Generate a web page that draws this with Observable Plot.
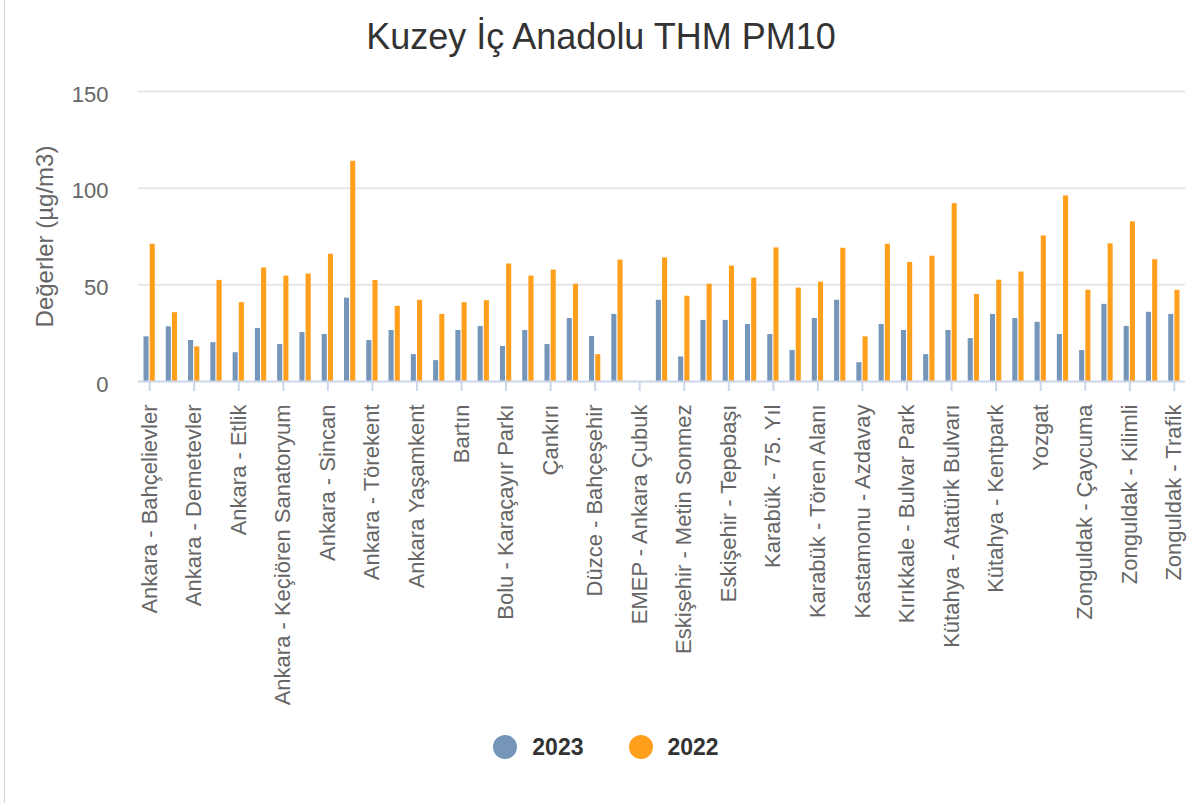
<!DOCTYPE html>
<html>
<head>
<meta charset="utf-8">
<script src="https://cdn.jsdelivr.net/npm/d3@7"></script>
<script src="https://cdn.jsdelivr.net/npm/@observablehq/plot@0.6"></script>
<style>
  html, body { margin: 0; padding: 0; background: #fff; }
  body { font-family: "Liberation Sans", Arial, sans-serif; width: 1202px; height: 803px; position: relative; overflow: hidden; }
  #border { position: absolute; left: 4px; top: 0; width: 1px; height: 803px; background: #d4d4d4; }
  #title { padding-top: 15px; height: 44px; line-height: 44px; text-align: center; font-size: 36px; color: #333; }
  #legend { display: flex; justify-content: center; align-items: center; height: 36px; padding-left: 10px; font-size: 23px; font-weight: bold; color: #333; }
  .item { display: flex; align-items: center; }
  .dot { width: 24px; height: 24px; border-radius: 50%; margin-right: 15px; }
</style>
</head>
<body>
<div id="border"></div>
<div id="title">Kuzey İç Anadolu THM PM10</div>
<div id="chart"></div>
<div id="legend"></div>
<script>
const categories = [
  "Ankara - Bahçelievler", "Ankara - Cebeci", "Ankara - Demetevler", "Ankara - Dikmen",
  "Ankara - Etlik", "Ankara - Kayaş", "Ankara - Keçiören Sanatoryum", "Ankara - Sıhhiye",
  "Ankara - Sincan", "Ankara - Siteler", "Ankara - Törekent", "Ankara - Ümitköy",
  "Ankara Yaşamkent", "Ankara Yenimahalle", "Bartın", "Bilecik",
  "Bolu - Karaçayır Parkı", "Bolu - Merkez", "Çankırı", "Düzce",
  "Düzce - Bahçeşehir", "Düzce - Kent Meydanı", "EMEP - Ankara Çubuk", "Eskişehir - Büyükdere",
  "Eskişehir - Metin Sonmez", "Eskişehir - Odunpazarı", "Eskişehir - Tepebaşı", "Karabük",
  "Karabük - 75. Yıl", "Karabük - Safranbolu", "Karabük - Tören Alanı", "Kastamonu",
  "Kastamonu - Azdavay", "Kırıkkale", "Kırıkkale - Bulvar Park", "Kütahya",
  "Kütahya - Atatürk Bulvarı", "Kütahya - Gediz", "Kütahya - Kentpark", "Kütahya - Tavşanlı",
  "Yozgat", "Zonguldak", "Zonguldak - Çaycuma", "Zonguldak - Ereğli",
  "Zonguldak - Kilimli", "Zonguldak - Kozlu", "Zonguldak - Trafik"
];
const values2023 = [23.1, 28.3, 21.2, 20.1, 14.9, 27.4, 19.1, 25.3, 24.3, 43.1, 21.2, 26.4, 13.9, 10.8, 26.4, 28.4,
  18.1, 26.4, 19.1, 32.6, 23.3, 34.7, null, 42.0, 12.7, 31.6, 31.6, 29.5, 24.3, 16.0, 32.6, 42.0,
  9.7, 29.5, 26.4, 13.9, 26.4, 22.2, 34.7, 32.6, 30.6, 24.3, 16.0, 39.9, 28.5, 35.8, 34.7];
const values2022 = [71.0, 35.6, 17.9, 52.3, 40.8, 58.7, 54.5, 55.6, 65.8, 113.9, 52.3, 38.9, 42.0, 34.7, 40.8, 41.8,
  60.8, 54.5, 57.6, 50.3, 13.9, 62.8, null, 63.9, 44.1, 50.3, 59.7, 53.5, 69.1, 48.3, 51.4, 68.9,
  23.1, 71.0, 61.6, 64.8, 92.0, 45.0, 52.4, 56.6, 75.3, 96.0, 47.2, 71.2, 82.6, 63.0, 47.2];
const seriesNames = ["2023", "2022"];
const seriesColors = ["#7596b9", "#ff9f1c"];
const yTicks = [0, 50, 100, 150];
const axisTitle = "Değerler (µg/m3)";

const labelCats = categories.filter((d, i) => i % 2 === 0);
const rows2023 = categories.map((c, i) => ({station: c, value: values2023[i]}));
const rows2022 = categories.map((c, i) => ({station: c, value: values2022[i]}));

const inset = 8.6;
const chart = Plot.plot({
  width: 1202,
  height: 670,
  marginLeft: 138,
  marginRight: 17,
  marginTop: 32,
  marginBottom: 348,
  style: {fontFamily: "'Liberation Sans', Arial, sans-serif", background: "transparent"},
  x: {domain: categories, padding: 0, round: false, axis: null},
  y: {domain: [0, 150], axis: null},
  marks: [
    Plot.ruleY(yTicks.filter(d => d > 0), {stroke: "#e6e6e6", strokeWidth: 2}),
    Plot.barY(rows2023, {x: "station", y: "value", fill: seriesColors[0], insetLeft: inset, insetRight: inset, dx: -3.1}),
    Plot.barY(rows2022, {x: "station", y: "value", fill: seriesColors[1], insetLeft: inset, insetRight: inset, dx: 3.1}),
    Plot.ruleY([0], {stroke: "#ccd6eb", strokeWidth: 2}),
    Plot.axisX({ticks: labelCats, tickRotate: -90, tickSize: 10, tickPadding: 13, stroke: "#ccd6eb", strokeWidth: 2, strokeOpacity: 1, fill: "#666", fontSize: 22, label: null}),
    Plot.axisY({ticks: yTicks, tickSize: 0, tickPadding: 30, dy: 3, fill: "#666", fontSize: 22, label: null}),
    Plot.text([axisTitle], {frameAnchor: "left", rotate: -90, dx: -93, fill: "#666", fontSize: 24, textAnchor: "middle", lineAnchor: "middle"})
  ]
});
document.getElementById("chart").appendChild(chart);

const legend = document.getElementById("legend");
seriesNames.forEach((name, i) => {
  const item = document.createElement("div");
  item.className = "item";
  if (i > 0) item.style.marginLeft = "45px";
  const dot = document.createElement("span");
  dot.className = "dot";
  dot.style.background = seriesColors[i];
  const label = document.createElement("span");
  label.textContent = name;
  item.appendChild(dot);
  item.appendChild(label);
  legend.appendChild(item);
});
</script>
</body>
</html>
